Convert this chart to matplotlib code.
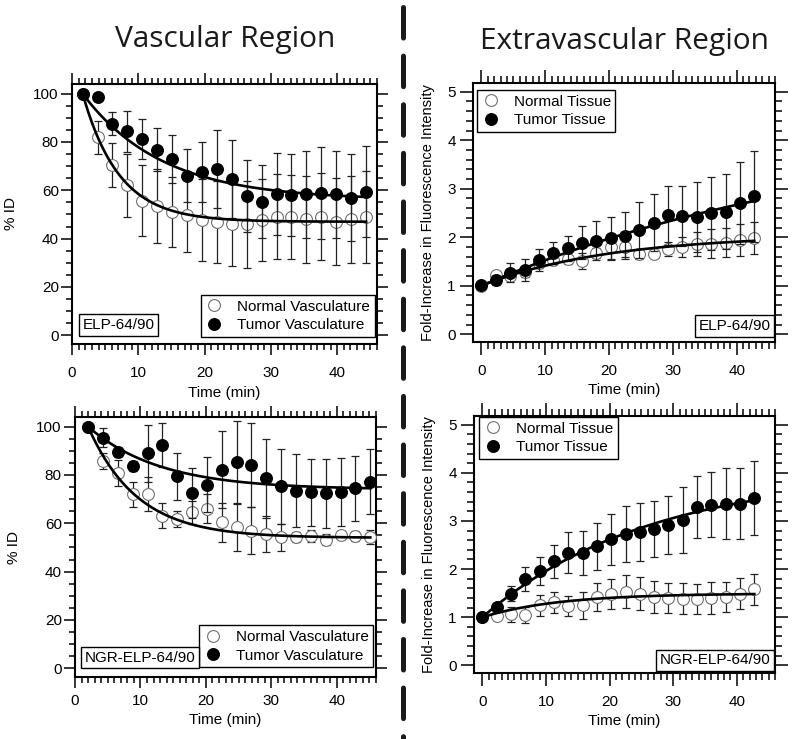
import numpy as np
import matplotlib
matplotlib.use("Agg")
import matplotlib.pyplot as plt
from matplotlib.lines import Line2D

plt.rcParams['font.family'] = ['Liberation Sans', 'DejaVu Sans']
plt.rcParams['lines.scale_dashes'] = False

# ---------------- data ----------------
t_vasc_elp = [1.6 + 2.25 * k for k in range(20)]
t_vasc_ngr = [2.0 + 2.27 * k for k in range(20)]
t_extra = [2.25 * k for k in range(20)]

# Top-left: ELP-64/90 vascular (% ID)
elp_vasc_normal = [100, 82, 70.5, 62, 55.7, 53.5, 51, 49.8, 47.7, 47, 46, 46, 47.7, 49, 49, 48, 49, 47, 48, 49]
elp_vasc_normal_err = [0, 6.8, 9.2, 12.9, 14.6, 15.5, 14.5, 15.4, 17, 17, 17.3, 18, 17, 17.6, 17.5, 18, 18, 18, 18, 19]
elp_vasc_tumor = [100, 98.5, 87.5, 84.4, 81.2, 76.8, 72.9, 66, 67.4, 68.8, 64.7, 57.7, 55.3, 58.4, 58.1, 58.4, 58.8, 58.4, 57.0, 59.5]
elp_vasc_tumor_err = [0, 0, 4.8, 8.5, 8.3, 9, 9.8, 11, 12.4, 16, 16, 14.8, 15.2, 17, 17, 18, 19, 18, 18, 19]
elp_vasc_fit_normal = (47, 53, 5.5)   # plateau, amplitude, tau
elp_vasc_fit_tumor = (56, 44, 12)

# Bottom-left: NGR-ELP-64/90 vascular (% ID)
ngr_vasc_normal = [100, 85.9, 80.8, 72.1, 72.1, 63.2, 61.8, 64.6, 66, 60.4, 58.4, 57, 55.6, 54.3, 54.3, 54.7, 53.3, 55.2, 54.7, 54.3]
ngr_vasc_normal_err = [0, 3.4, 5.5, 5.2, 7, 5.2, 3.2, 4.8, 6, 8, 9.8, 9.8, 7.4, 5.6, 2, 2.4, 2.4, 1.7, 2, 3]
ngr_vasc_tumor = [100, 95.5, 89.6, 83.8, 88.9, 92.3, 79.4, 72.5, 76, 82.2, 85.5, 84.1, 78.6, 75.3, 73.5, 72.8, 72.5, 73.1, 74.5, 77.3]
ngr_vasc_tumor_err = [0, 4.1, 2, 2, 11.8, 9.1, 9.6, 10.3, 11.5, 16, 16.9, 17.5, 16.2, 15.4, 15.1, 14.0, 14.3, 14.1, 13.5, 13.3]
ngr_vasc_fit_normal = (54, 46, 7.5)
ngr_vasc_fit_tumor = (74, 26, 11)

# Top-right: ELP-64/90 extravascular (fold increase)
elp_extra_normal = [1.0, 1.22, 1.2, 1.29, 1.47, 1.53, 1.56, 1.51, 1.67, 1.80, 1.80, 1.65, 1.65, 1.76, 1.80, 1.86, 1.87, 1.89, 1.94, 1.98]
elp_extra_normal_err = [0, 0.07, 0.05, 0.1, 0.1, 0.1, 0.12, 0.17, 0.1, 0.25, 0.2, 0.1, 0.05, 0.15, 0.2, 0.25, 0.3, 0.3, 0.33, 0.33]
elp_extra_tumor = [1.01, 1.12, 1.27, 1.32, 1.53, 1.67, 1.77, 1.89, 1.93, 1.98, 2.03, 2.15, 2.30, 2.45, 2.44, 2.42, 2.49, 2.53, 2.71, 2.84]
elp_extra_tumor_err = [0, 0.1, 0.19, 0.23, 0.22, 0.23, 0.26, 0.34, 0.40, 0.44, 0.48, 0.57, 0.59, 0.61, 0.62, 0.72, 0.76, 0.78, 0.85, 0.94]
elp_extra_fit_normal = (1.0, 1.05, 20)   # base, amplitude, tau
elp_extra_fit_tumor = (1.0, 3.43, 60)

# Bottom-right: NGR-ELP-64/90 extravascular (fold increase)
ngr_extra_normal = [1.0, 1.03, 1.06, 1.05, 1.25, 1.31, 1.23, 1.25, 1.42, 1.49, 1.53, 1.49, 1.42, 1.39, 1.38, 1.37, 1.40, 1.42, 1.49, 1.58]
ngr_extra_normal_err = [0, 0.07, 0.16, 0.17, 0.22, 0.22, 0.2, 0.28, 0.29, 0.31, 0.34, 0.34, 0.33, 0.31, 0.32, 0.31, 0.34, 0.32, 0.32, 0.32]
ngr_extra_tumor = [1.0, 1.21, 1.49, 1.79, 1.95, 2.16, 2.34, 2.34, 2.47, 2.62, 2.73, 2.77, 2.83, 2.91, 3.02, 3.29, 3.34, 3.36, 3.36, 3.48]
ngr_extra_tumor_err = [0, 0.05, 0.15, 0.25, 0.29, 0.35, 0.42, 0.46, 0.48, 0.53, 0.59, 0.60, 0.58, 0.60, 0.68, 0.64, 0.68, 0.73, 0.73, 0.77]
ngr_extra_fit_normal = (1.0, 0.494, 12)
ngr_extra_fit_tumor = (1.0, 3.01, 26)

# ---------------- figure ----------------
W, H = 800, 739
fig = plt.figure(figsize=(W / 100, H / 100), dpi=100)


def ax_at(x0, y0, x1, y1):
    return fig.add_axes([x0 / W, 1 - y1 / H, (x1 - x0) / W, (y1 - y0) / H])


ax_tl = ax_at(72, 84, 377, 344)
ax_tr = ax_at(473, 83, 775, 342)
ax_bl = ax_at(75, 417, 376, 677)
ax_br = ax_at(474, 416, 775, 673)

MS = 8.5
OPEN = dict(marker='o', ms=MS, mfc='white', mec='#707070', mew=0.8, ls='none')
FILL = dict(marker='o', ms=MS, mfc='black', mec='black', mew=0.8, ls='none')
ERR = dict(ls='none', ecolor='#222222', elinewidth=0.9, capsize=3.2, capthick=0.9)
FS = 11


def style(ax, xlim, ylim, ymaj, ymin, majlen, minlen, xpad, ypad):
    ax.set_xlim(*xlim)
    ax.set_ylim(*ylim)
    ax.set_xticks([0, 10, 20, 30, 40])
    ax.set_xticks(np.arange(0, 47, 1), minor=True)
    ax.set_yticks(ymaj)
    ax.set_yticks(ymin, minor=True)
    ax.tick_params(which='both', direction='out', top=True, right=True, width=1.1,
                   labelsize=FS, colors='black')
    ax.tick_params(which='major', length=majlen)
    ax.tick_params(which='minor', length=minlen)
    ax.tick_params(axis='x', which='both', pad=xpad)
    ax.tick_params(axis='y', which='both', pad=ypad)
    for s in ax.spines.values():
        s.set_linewidth(1.5)
    ax.set_xlabel('Time (min)', fontsize=FS, labelpad=4)


def plot_series(ax, t, y, e, kw, zorder):
    ax.errorbar(t, y, yerr=e, zorder=zorder, **ERR)
    ax.plot(t, y, zorder=zorder + 1, **kw)


def decay_curve(ax, t0, t1, fit):
    p, a, tau = fit
    tt = np.linspace(t0, t1, 200)
    ax.plot(tt, p + a * np.exp(-(tt - t0) / tau), color='black', lw=1.9, zorder=6)


def rise_curve(ax, t0, t1, fit):
    b, a, tau = fit
    tt = np.linspace(t0, t1, 200)
    ax.plot(tt, b + a * (1 - np.exp(-(tt - t0) / tau)), color='black', lw=1.9, zorder=6)


def make_legend(ax, labels, loc, anchor):
    h = [Line2D([], [], **OPEN), Line2D([], [], **FILL)]
    leg = ax.legend(h, labels, loc=loc, bbox_to_anchor=anchor, fontsize=FS, frameon=True,
                    fancybox=False, edgecolor='black', framealpha=1, borderpad=0.3,
                    labelspacing=0.3, handletextpad=0.9, handlelength=1.2, borderaxespad=0)
    leg.get_frame().set_linewidth(1.0)
    leg.set_zorder(10)


def tag(ax, x, y, s, ha):
    ax.text(x, y, s, transform=ax.transAxes, ha=ha, va='bottom', fontsize=FS, zorder=11,
            bbox=dict(boxstyle='square,pad=0.25', fc='white', ec='black', lw=1.0))


# Vascular panels
for ax, t, nv, ne, tv, te, fn, ft, lab, lanchor, tx, xlim, xpad in [
    (ax_tl, t_vasc_elp, elp_vasc_normal, elp_vasc_normal_err, elp_vasc_tumor, elp_vasc_tumor_err,
     elp_vasc_fit_normal, elp_vasc_fit_tumor, 'ELP-64/90', (0.993, 0.027), (0.035, 0.045),
     (0.3, 45.8), 8.0),
    (ax_bl, t_vasc_ngr, ngr_vasc_normal, ngr_vasc_normal_err, ngr_vasc_tumor, ngr_vasc_tumor_err,
     ngr_vasc_fit_normal, ngr_vasc_fit_tumor, 'NGR-ELP-64/90', (0.99, 0.038), (0.032, 0.048),
     (0.85, 46.0), 4.0),
]:
    style(ax, xlim, (-3.6, 104), [0, 20, 40, 60, 80, 100], np.arange(0, 101, 5), 8, 4.5, xpad, 1.5)
    ax.set_ylabel('% ID', fontsize=FS, labelpad=11)
    plot_series(ax, t, nv, ne, OPEN, 3)
    plot_series(ax, t, tv, te, FILL, 4)
    decay_curve(ax, t[0], t[-1], fn)
    decay_curve(ax, t[0], t[-1], ft)
    make_legend(ax, ['Normal Vasculature', 'Tumor Vasculature'], 'lower right', lanchor)
    tag(ax, tx[0], tx[1], lab, 'left')

# Extravascular panels
for ax, nv, ne, tv, te, fn, ft, lab, lanchor, tx in [
    (ax_tr, elp_extra_normal, elp_extra_normal_err, elp_extra_tumor, elp_extra_tumor_err,
     elp_extra_fit_normal, elp_extra_fit_tumor, 'ELP-64/90', (0.013, 0.973), (0.985, 0.035)),
    (ax_br, ngr_extra_normal, ngr_extra_normal_err, ngr_extra_tumor, ngr_extra_tumor_err,
     ngr_extra_fit_normal, ngr_extra_fit_tumor, 'NGR-ELP-64/90', (0.017, 0.996), (0.985, 0.022)),
]:
    style(ax, (-1.33, 43.4), (-0.16, 5.18), [0, 1, 2, 3, 4, 5], np.arange(0, 5.01, 0.2),
          9.5, 5, 6.0, 3.0)
    ax.set_ylabel('Fold-Increase in Fluorescence Intensity', fontsize=10.5, labelpad=9)
    plot_series(ax, t_extra, nv, ne, OPEN, 3)
    plot_series(ax, t_extra, tv, te, FILL, 4)
    rise_curve(ax, t_extra[0], t_extra[-1], fn)
    rise_curve(ax, t_extra[0], t_extra[-1], ft)
    make_legend(ax, ['Normal Tissue', 'Tumor Tissue'], 'upper left', lanchor)
    tag(ax, tx[0], tx[1], lab, 'right')

# Titles
fig.text(225 / W, 1 - 40 / H, 'Vascular Region', ha='center', va='center', fontsize=21.5,
         family=['Open Sans', 'DejaVu Sans'], color='#1a1a1a')
fig.text(624 / W, 1 - 42 / H, 'Extravascular Region', ha='center', va='center', fontsize=21.5,
         family=['Open Sans', 'DejaVu Sans'], color='#1a1a1a')

# Dashed divider
fig.add_artist(Line2D([403 / W, 403 / W], [1 - 7 / H, 0.0], transform=fig.transFigure,
                      color='#1a1a1a', lw=3.6, linestyle=(0, (22, 13)),
                      solid_capstyle='round', dash_capstyle='round'))

fig.savefig('out.png', dpi=100)
